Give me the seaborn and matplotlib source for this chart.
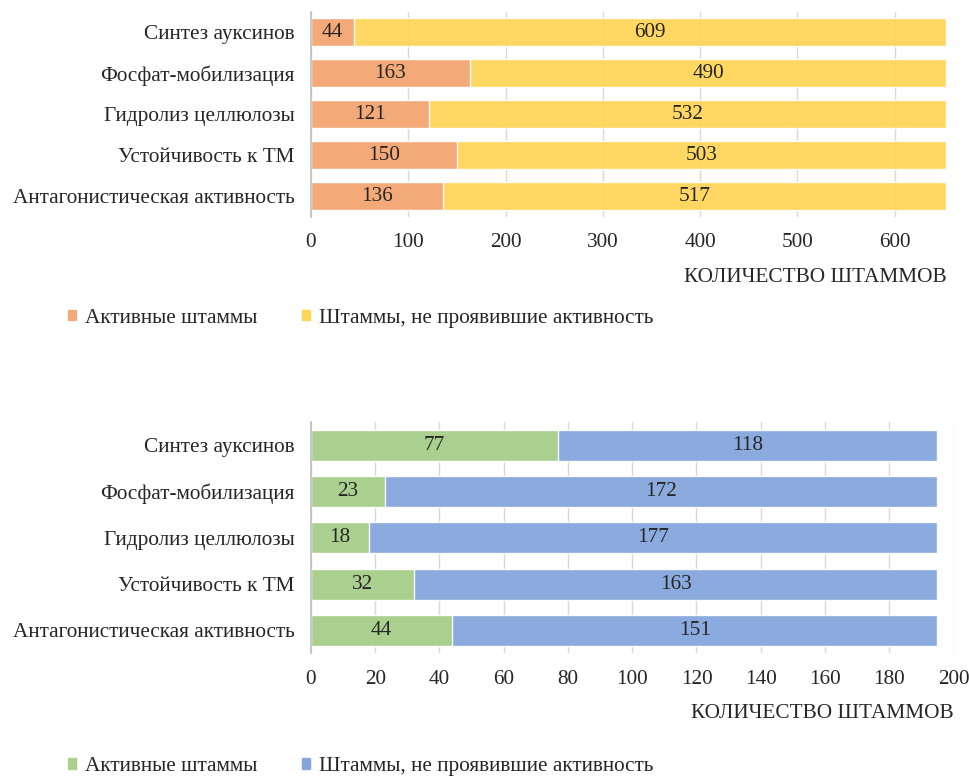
import pandas as pd
import seaborn as sns
import matplotlib.pyplot as plt
from matplotlib.patches import Patch

categories = ['Синтез ауксинов', 'Фосфат-мобилизация', 'Гидролиз целлюлозы',
              'Устойчивость к ТМ', 'Антагонистическая активность']

# top chart
active_top = [44, 163, 121, 150, 136]
inactive_top = [609, 490, 532, 503, 517]
ticks_top = [0, 100, 200, 300, 400, 500, 600]

# bottom chart
active_bot = [77, 23, 18, 32, 44]
inactive_bot = [118, 172, 177, 163, 151]
ticks_bot = [0, 20, 40, 60, 80, 100, 120, 140, 160, 180, 200]

legend_labels = ['Активные штаммы', 'Штаммы, не проявившие активность']
xlabel = 'КОЛИЧЕСТВО ШТАММОВ'

sns.set_style('white')
plt.rcParams['font.family'] = ['Liberation Serif', 'DejaVu Serif']
FS = 15.3

fig = plt.figure(figsize=(9.7, 7.76), dpi=100)
ax1 = fig.add_axes([0.3206, 0.721, 0.655, 0.264])
ax2 = fig.add_axes([0.3206, 0.158, 0.6624, 0.298])


def draw(ax, active, inactive, c_act, c_inact, xmax, ticks, width, label_y):
    df = pd.DataFrame({'cat': categories, 'active': active, 'inactive': inactive})
    df['total'] = df['active'] + df['inactive']
    sns.barplot(data=df, x='total', y='cat', color=c_inact, width=width,
                saturation=1, ax=ax, orient='h', alpha=0.95)
    sns.barplot(data=df, x='active', y='cat', color=c_act, width=width,
                saturation=1, ax=ax, orient='h')
    for i, row in df.iterrows():
        ax.text(row['active'] / 2, i, str(row['active']), ha='center',
                va='center', fontsize=FS)
        ax.text(row['active'] + row['inactive'] / 2, i, str(row['inactive']),
                ha='center', va='center', fontsize=FS)
    ax.set_xlim(0, xmax)
    ax.set_xticks(ticks)
    ax.set_xticklabels([str(t) for t in ticks], fontsize=FS)
    ax.tick_params(axis='y', labelsize=FS, length=0, pad=12)
    ax.tick_params(axis='x', length=0, pad=12)
    ax.set_ylabel('')
    ax.set_xlabel('')
    ax.xaxis.grid(True, color='#d9d9d9', lw=1)
    ax.set_axisbelow(True)
    for s in ['top', 'right', 'bottom']:
        ax.spines[s].set_visible(False)
    ax.spines['left'].set_color('#bfbfbf')
    ax.spines['left'].set_linewidth(1.2)
    ax.text(1.0, label_y, xlabel, transform=ax.transAxes, ha='right',
            va='center', fontsize=FS)


draw(ax1, active_top, inactive_top, '#F4AA78', '#FFD55A', 653, ticks_top, 0.7, -0.3)
draw(ax2, active_bot, inactive_bot, '#A9D08E', '#85A6DC', 200, ticks_bot, 0.67, -0.26)

leg_kw = dict(loc='center left', ncol=2, frameon=False, fontsize=FS,
              handlelength=0.4, handleheight=0.4, handletextpad=0.4,
              columnspacing=2.1)
h1 = [Patch(color='#F4AA78'), Patch(color='#FFD55A')]
fig.legend(h1, legend_labels, bbox_to_anchor=(0.05, 0.59), **leg_kw)
h2 = [Patch(color='#A9D08E'), Patch(color='#85A6DC')]
fig.legend(h2, legend_labels, bbox_to_anchor=(0.05, 0.012), **leg_kw)

fig.savefig('out.png', dpi=100)
